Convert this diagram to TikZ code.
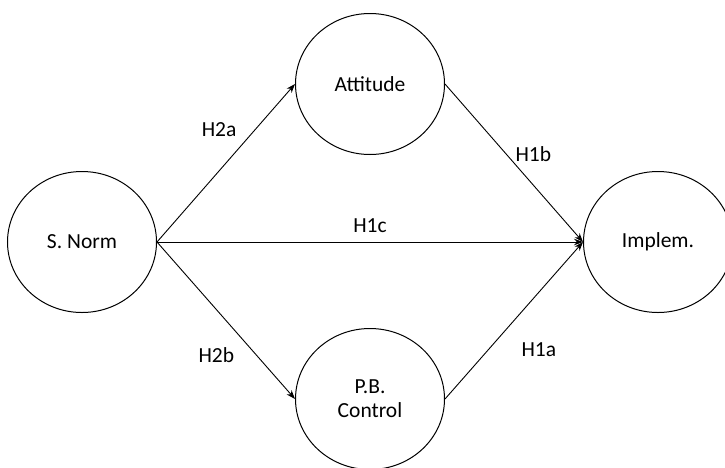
\documentclass[tikz,border=0pt]{standalone}
\usepackage{fontspec}
\setmainfont{Carlito}
\usetikzlibrary{arrows.meta,positioning,shapes.geometric,calc}

\begin{document}
\begin{tikzpicture}[
  x=1pt, y=1pt,
  every node/.style={font=\fontsize{21.5}{24}\selectfont},
  construct/.style={ellipse, draw=black, line width=1pt, minimum width=149pt, minimum height=141pt, inner sep=0pt, align=center},
  link/.style={-{Stealth[length=9pt,width=6.5pt]}, line width=0.9pt},
  hyp/.style={inner sep=0pt}
]
\useasboundingbox (-82,-225) rectangle (643,242);

\node[construct]                        (norm) at (0,0) {S. Norm};
\node[construct, right=426pt of norm]   (impl) {Implem.};
\node[construct] (att) at ($(norm)!.5!(impl)+(0,158)$)  {Attitude};
\node[construct] (pbc) at ($(norm)!.5!(impl)+(0,-157)$) {P.B.\\Control};

\draw[link] (norm.east) -- node[hyp, pos=.45, above=34pt]{H2a} (att.west);
\draw[link] (norm.east) -- node[hyp, pos=.43, below=38pt]{H2b} (pbc.west);
\draw[link] (norm.east) -- node[hyp, above=9pt]{H1c}           (impl.west);
\draw[link] (att.east)  -- node[hyp, pos=.64, above=23pt]{H1b} (impl.west);
\draw[link] (pbc.east)  -- node[hyp, pos=.68, below=50pt]{H1a} (impl.west);
\end{tikzpicture}
\end{document}
